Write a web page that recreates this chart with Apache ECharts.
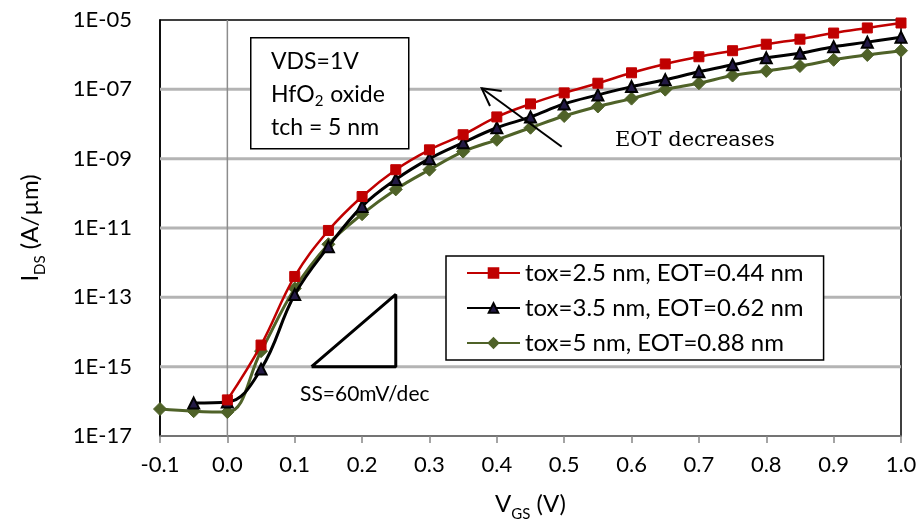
<!DOCTYPE html>
<html>
<head>
<meta charset="utf-8">
<script src="https://cdn.jsdelivr.net/npm/echarts@6/dist/echarts.min.js"></script>
<style>html,body{margin:0;padding:0;background:#fff}#c{width:923px;height:527px}</style>
</head>
<body>
<div id="c"></div>
<script>
const vgs = [-0.1,-0.05,0,0.05,0.1,0.15,0.2,0.25,0.3,0.35,0.4,0.45,0.5,0.55,0.6,0.65,0.7,0.75,0.8,0.85,0.9,0.95,1.0];
const tox25 = [null,null,1.1e-16,4.2e-15,4.0e-13,8.5e-12,8.1e-11,4.8e-10,1.8e-9,4.9e-9,1.6e-8,3.8e-8,7.9e-8,1.5e-7,3.0e-7,5.4e-7,8.7e-7,1.3e-6,2.0e-6,2.8e-6,4.2e-6,5.9e-6,8.2e-6];
const tox35 = [null,8.9e-17,9.5e-17,8.5e-16,1.2e-13,2.9e-12,4.2e-11,2.5e-10,1.0e-9,2.9e-9,7.8e-9,1.6e-8,3.8e-8,6.9e-8,1.2e-7,1.9e-7,3.2e-7,5.1e-7,8.1e-7,1.1e-6,1.7e-6,2.3e-6,3.2e-6];
const tox50 = [6.0e-17,5.2e-17,4.9e-17,2.8e-15,1.8e-13,3.4e-12,2.5e-11,1.3e-10,4.8e-10,1.6e-9,3.5e-9,7.8e-9,1.7e-8,3.2e-8,5.4e-8,9.8e-8,1.5e-7,2.5e-7,3.4e-7,4.7e-7,7.1e-7,9.8e-7,1.3e-6];
const seriesNames = ['tox=2.5 nm, EOT=0.44 nm','tox=3.5 nm, EOT=0.62 nm','tox=5 nm, EOT=0.88 nm'];
const xRange = [-0.1, 1.0];
const yRange = [1e-17, 1e-5];
const yGridValues = [1e-15,1e-13,1e-11,1e-9,1e-7];
const xGridValues = [0];
// SS = 60 mV/dec reference triangle (data coordinates)
const ssTriX = [0.125, 0.25];
const ssTriY = [1e-15, 1e-15 * Math.pow(10, 0.125/0.06)];

const FONT = 'Lato';
const GRID_GRAY = '#8c8c8c';
function pairs(arr){ const out=[]; arr.forEach((v,i)=>{ if(v!==null) out.push([vgs[i],v]); }); return out; }
function helperLine(points, color, width, z){
  return {type:'line',data:points,silent:true,z:z,symbol:'none',showSymbol:false,smooth:false,
    lineStyle:{color:color,width:width}};
}
const gridSeries = [
  ...yGridValues.map(v=>helperLine([[xRange[0],v],[xRange[1],v]],'#b4b4b4',3,1)),
  ...xGridValues.map(v=>helperLine([[v,yRange[0]],[v,yRange[1]]],GRID_GRAY,1.5,1))
];
const triSeries = helperLine([[ssTriX[0],ssTriY[0]],[ssTriX[1],ssTriY[0]],[ssTriX[1],ssTriY[1]],[ssTriX[0],ssTriY[0]]],'#000',3,3);

const chart = echarts.init(document.getElementById('c'), null, {renderer:'canvas'});
const subRich = {i:{fontSize:24,fontFamily:FONT,color:'#000'},s:{fontSize:15,fontFamily:FONT,color:'#000',verticalAlign:'bottom',padding:[0,0,-6,0]}};
const option = {
  animation:false,
  backgroundColor:'#fff',
  textStyle:{fontFamily:FONT},
  grid:{left:160,right:22,top:20,bottom:90,show:true,borderColor:'#000',borderWidth:1.5,backgroundColor:'transparent'},
  xAxis:{
    type:'value',min:xRange[0],max:xRange[1],interval:0.1,
    name:'{i|V}{s|GS}{i| (V)}',nameLocation:'middle',nameGap:56,
    nameTextStyle:{color:'#000',rich:subRich},
    axisLine:{show:true,onZero:false,lineStyle:{color:'#868686',width:1.5}},
    axisTick:{show:true,inside:false,length:7,lineStyle:{color:'#868686',width:1.5}},
    axisLabel:{color:'#000',fontSize:22,fontFamily:FONT,margin:18,formatter:v=>v.toFixed(1)},
    splitLine:{show:false}
  },
  yAxis:{
    type:'log',logBase:10,min:yRange[0],max:yRange[1],interval:1,
    name:'{i|I}{s|DS}{i| (A/µm)}',nameLocation:'middle',nameGap:118,nameRotate:90,
    nameTextStyle:{color:'#000',rich:subRich},
    axisLine:{show:true,onZero:false,lineStyle:{color:'#000',width:1.5}},
    axisTick:{show:false},
    axisLabel:{color:'#000',fontSize:22,fontFamily:FONT,margin:28,formatter:function(v){
      const e=Math.round(Math.log10(v)); if(Math.abs(e)%2===0) return '';
      const a=Math.abs(e); return '1E'+(e<0?'-':'+')+(a<10?'0':'')+a; }},
    splitLine:{show:false}
  },
  legend:{
    orient:'vertical',left:446,top:256,
    data:seriesNames,
    backgroundColor:'#fff',borderColor:'#000',borderWidth:1.5,
    padding:[5,20,5,20],itemGap:11,itemWidth:53,itemHeight:12,
    textStyle:{fontSize:24,fontFamily:FONT,color:'#000',lineHeight:24}
  },
  series:[
    ...gridSeries,
    triSeries,
    {
      type:'line',name:seriesNames[2],data:pairs(tox50),smooth:0.4,z:4,
      symbol:'diamond',symbolSize:13,
      lineStyle:{color:'#4F6228',width:3},
      itemStyle:{color:'#4F6228',borderColor:'#4F6228',borderWidth:1}
    },
    {
      type:'line',name:seriesNames[1],data:pairs(tox35),smooth:0.4,z:5,
      symbol:'triangle',symbolSize:11,
      lineStyle:{color:'#000',width:3},
      itemStyle:{color:'#231a45',borderColor:'#000',borderWidth:2}
    },
    {
      type:'line',name:seriesNames[0],data:pairs(tox25),smooth:0.4,z:6,
      symbol:'rect',symbolSize:10,
      lineStyle:{color:'#C00000',width:2.5},
      itemStyle:{color:'#C00000',borderColor:'#C00000',borderWidth:1}
    }
  ]
};
chart.setOption(option);

// Horizontal gridlines also as graphic lines placed through the chart's own coordinate conversion
const gridGraphics = yGridValues.map(v=>{
  const a = chart.convertToPixel({gridIndex:0},[xRange[0],v]);
  const b = chart.convertToPixel({gridIndex:0},[xRange[1],v]);
  return {type:'line',silent:true,shape:{x1:a[0],y1:a[1],x2:b[0],y2:b[1]},style:{stroke:GRID_GRAY,lineWidth:1.5}};
});
const annotations = [
  {type:'rect',left:250,top:37,z:50,shape:{width:158,height:111},style:{fill:'#fff',stroke:'#000',lineWidth:1.5}},
  {type:'text',left:271,top:50,z:51,style:{text:'VDS=1V',fontSize:23,fontFamily:FONT,fill:'#000'}},
  {type:'text',left:271,top:83,z:51,style:{text:'HfO{s|2} oxide',fontSize:23,fontFamily:FONT,fill:'#000',
    rich:{s:{fontSize:15,fontFamily:FONT,fill:'#000',verticalAlign:'bottom',lineHeight:15,padding:[0,1,-3,0]}}}},
  {type:'text',left:271,top:116,z:51,style:{text:'tch = 5 nm',fontSize:23,fontFamily:FONT,fill:'#000'}},
  {type:'text',left:615,top:130,z:51,style:{text:'EOT decreases',fontSize:21,fontFamily:'DejaVu Serif',fill:'#000'}},
  {type:'text',left:300,top:384,z:51,style:{text:'SS=60mV/dec',fontSize:21,fontFamily:FONT,fill:'#000'}},
  {type:'polyline',z:52,shape:{points:[[561.7,146.7],[481.7,88.3]]},style:{stroke:'#000',lineWidth:2,fill:null}},
  {type:'polyline',z:52,shape:{points:[[501.7,91],[481.7,88.3],[490,106]]},style:{stroke:'#000',lineWidth:2,fill:null}}
];
chart.setOption({graphic:[...gridGraphics, ...annotations]});
</script>
</body>
</html>
